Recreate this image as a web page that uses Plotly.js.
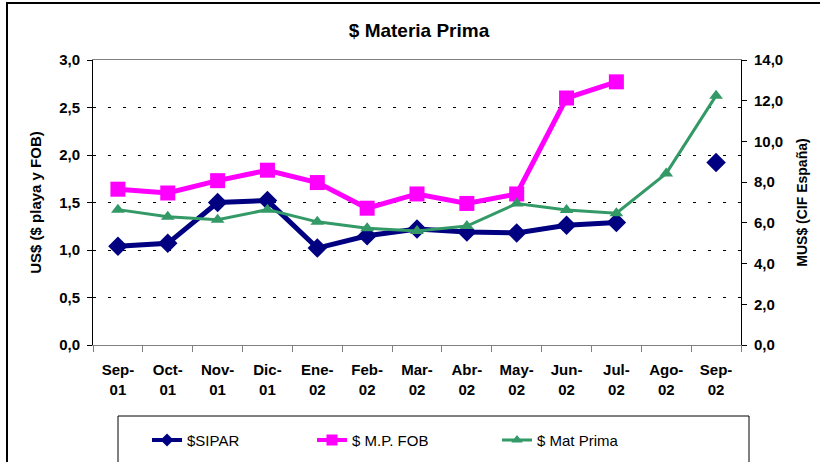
<!DOCTYPE html>
<html>
<head>
<meta charset="utf-8">
<script src="https://cdn.plot.ly/plotly-3.0.1.min.js"></script>
<style>html,body{margin:0;padding:0;background:#fff;}#chart{width:820px;height:462px;}</style>
</head>
<body>
<div id="chart"></div>
<script>
const categories = ['Sep-01','Oct-01','Nov-01','Dic-01','Ene-02','Feb-02','Mar-02','Abr-02','May-02','Jun-02','Jul-02','Ago-02','Sep-02'];
const tickLabels = ['Sep-<br>01','Oct-<br>01','Nov-<br>01','Dic-<br>01','Ene-<br>02','Feb-<br>02','Mar-<br>02','Abr-<br>02','May-<br>02','Jun-<br>02','Jul-<br>02','Ago-<br>02','Sep-<br>02'];
const sipar   = [1.04, 1.07, 1.50, 1.52, 1.02, 1.15, 1.22, 1.19, 1.18, 1.26, 1.29, null, 1.92];
const mpFob   = [1.64, 1.60, 1.73, 1.84, 1.71, 1.44, 1.59, 1.49, 1.59, 2.60, 2.77, null, null];
const matPrima = [6.65, 6.30, 6.15, 6.65, 6.05, 5.73, 5.60, 5.84, 6.95, 6.63, 6.47, 8.43, 12.25];

const FONT = 'Arial, "Liberation Sans", sans-serif';

const series = [
  {name: '$SIPAR', y: sipar, color: '#000080', lw: 5, sym: 'diamond', ms: 15, axis: 'y', legLw: 4, legMs: 10, legend: 'legend'},
  {name: '$ M.P. FOB', y: mpFob, color: '#FF00FF', lw: 5, sym: 'square', ms: 15, axis: 'y', legLw: 4, legMs: 11, legend: 'legend2'},
  {name: '$ Mat Prima', y: matPrima, color: '#339966', lw: 3, sym: 'triangle-up', ms: 12, axis: 'y2', legLw: 3, legMs: 10, legend: 'legend3'}
];

const traces = [];
series.forEach(s => {
  traces.push({x: categories, y: s.y, name: s.name, type: 'scatter', mode: 'lines+markers',
    line: {color: s.color, width: s.lw}, marker: {symbol: s.sym, size: s.ms, color: s.color},
    connectgaps: false, yaxis: s.axis, showlegend: false});
});
// legend-only entries (smaller symbols, as in the reference legend)
series.forEach(s => {
  traces.push({x: [null], y: [null], name: s.name, type: 'scatter', mode: 'lines+markers',
    line: {color: s.color, width: s.legLw}, marker: {symbol: s.sym, size: s.legMs, color: s.color},
    yaxis: s.axis, legend: s.legend, showlegend: true, hoverinfo: 'skip'});
});

function legendAt(xpx) {
  return {
    orientation: 'h', x: (xpx - 93) / 648, xanchor: 'left', y: -0.276, yanchor: 'top',
    font: {family: FONT, size: 15, color: '#000'},
    bgcolor: 'rgba(0,0,0,0)', borderwidth: 0
  };
}

const tickFont = {family: FONT, size: 15, color: '#000', weight: 'bold'};

const layout = {
  width: 820, height: 462,
  margin: {l: 93, r: 79, t: 60, b: 117, autoexpand: false},
  paper_bgcolor: '#fff', plot_bgcolor: '#fff',
  separators: ',.',
  font: {family: FONT, color: '#000', size: 13},
  title: {text: '<b>$ Materia Prima</b>', font: {family: FONT, size: 19, color: '#000'},
          x: 0.511, xanchor: 'center', y: 0.935, yanchor: 'middle'},
  xaxis: {
    type: 'category', tickvals: categories, ticktext: tickLabels,
    range: [-0.5, 12.5], tickson: 'boundaries', ticks: 'outside', ticklen: 6, tickcolor: '#808080',
    ticklabelstandoff: 11,
    showline: true, linecolor: '#808080', linewidth: 1, mirror: true,
    showgrid: false, zeroline: false,
    tickfont: tickFont
  },
  yaxis: {
    range: [0, 3], dtick: 0.5, tickformat: '.1f',
    ticks: 'outside', ticklen: 5, tickcolor: '#000', ticklabelstandoff: 4,
    showline: true, linecolor: '#000', linewidth: 1,
    showgrid: true, gridcolor: '#000', gridwidth: 1, griddash: '3px,12px',
    zeroline: false,
    tickfont: tickFont,
    title: {text: '<b>US$ ($ playa y FOB)</b>', font: {family: FONT, size: 15, color: '#000'}, standoff: 13}
  },
  yaxis2: {
    overlaying: 'y', side: 'right', range: [0, 14], dtick: 2, tickformat: '.1f',
    ticks: 'outside', ticklen: 5, tickcolor: '#000', ticklabelstandoff: 4,
    showline: true, linecolor: '#000', linewidth: 1,
    showgrid: false, zeroline: false,
    tickfont: tickFont,
    title: {text: '<b>MUS$ (CIF España)</b>', font: {family: FONT, size: 14, color: '#000'}, standoff: 14}
  },
  legend: legendAt(147),
  legend2: legendAt(312),
  legend3: legendAt(497),
  shapes: [
    {type: 'rect', xref: 'paper', yref: 'paper',
     x0: (7 - 93) / 648, x1: (830 - 93) / 648, y0: (345 - 480) / 285, y1: (345 - 3) / 285,
     line: {color: '#000', width: 2}, fillcolor: 'rgba(0,0,0,0)', layer: 'below'},
    {type: 'rect', xref: 'paper', yref: 'paper',
     x0: (118 - 93) / 648, x1: (749 - 93) / 648, y0: (345 - 480) / 285, y1: (345 - 416) / 285,
     line: {color: '#000', width: 1}, fillcolor: 'rgba(0,0,0,0)', layer: 'below'}
  ]
};

Plotly.newPlot('chart', traces, layout, {staticPlot: true, displayModeBar: false});
</script>
</body>
</html>
